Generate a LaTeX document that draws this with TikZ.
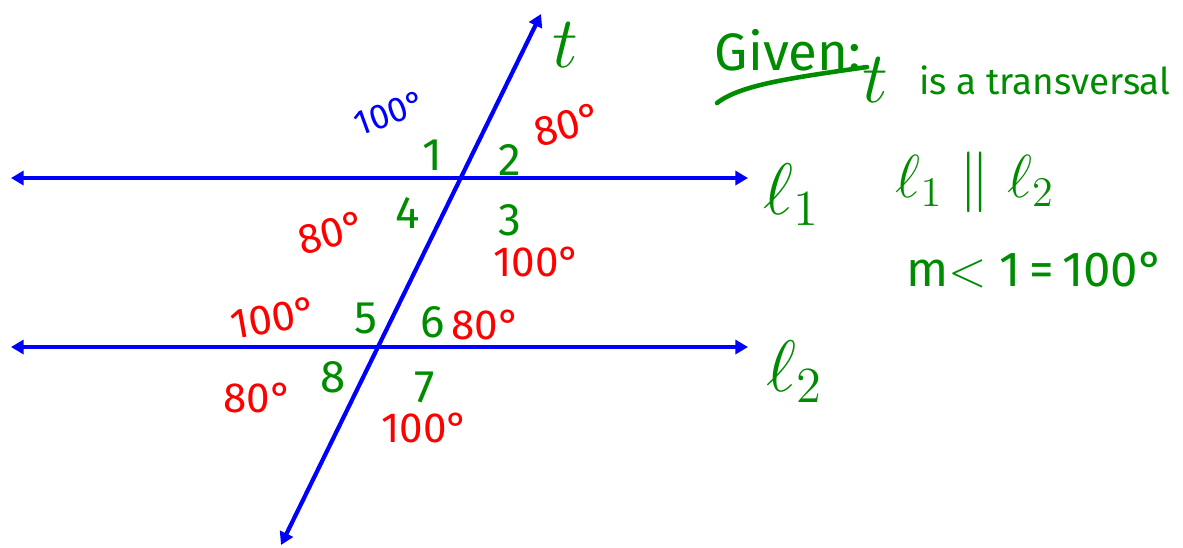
\documentclass[tikz,border=0pt]{standalone}
\usepackage{amsmath}
\usepackage{amssymb}
\usepackage{xcolor}
\usepackage{fontspec}
\setmainfont{Fira Sans}
\usepackage{tikz}
\usetikzlibrary{arrows.meta, positioning}
\definecolor{penblue}{RGB}{0, 0, 255}
\definecolor{pengreen}{RGB}{0, 140, 0}
\definecolor{penred}{RGB}{255, 0, 0}

\begin{document}
\begin{tikzpicture}[
    ln/.style    = {penblue, line width=1.2pt,
                    {Triangle[length=3.6pt,width=4pt]}-{Triangle[length=3.6pt,width=4pt]}},
    num/.style   = {text=pengreen, font=\fontsize{13}{13}\selectfont, inner sep=0pt},
    deg/.style   = {text=penred, font=\fontsize{12}{12}\selectfont, inner sep=0pt},
    given/.style = {text=pengreen, font=\fontsize{14}{14}\selectfont, inner sep=0pt},
    big/.style   = {text=pengreen, font=\fontsize{22}{22}\selectfont, inner sep=0pt},
  ]
  \useasboundingbox (0,0) rectangle (11.83,-5.47);

  %% Lines
  \coordinate (l1w) at (0.11,-1.78);
  \coordinate (l1e) at (7.48,-1.78);
  \coordinate (l2w) at (0.11,-3.47);
  \coordinate (l2e) at (7.48,-3.47);
  \coordinate (ttop) at (5.41,-0.14);
  \coordinate (tbot) at (2.81,-5.45);
  \draw[ln] (l1w) -- (l1e);
  \draw[ln] (l2w) -- (l2e);
  \draw[ln] (tbot) -- (ttop);

  %% Line names
  \node[big] (tname)  at (5.65,-0.45) {$t$};
  \node[big] (l1name) at (7.92,-1.95) {$\ell_1$};
  \node[big] (l2name) at (7.95,-3.72) {$\ell_2$};

  %% Angle numbers
  \node[num] (a1) at (4.32,-1.55) {1};
  \node[num] (a2) at (5.10,-1.60) {2};
  \node[num] (a3) at (5.10,-2.20) {3};
  \node[num] (a4) at (4.08,-2.13) {4};
  \node[num] (a5) at (3.66,-3.18) {5};
  \node[num] (a6) at (4.33,-3.22) {6};
  \node[num] (a7) at (4.25,-3.87) {7};
  \node[num] (a8) at (3.33,-3.77) {8};

  %% Angle measures
  \node[deg, text=penblue, font=\fontsize{10}{10}\selectfont, rotate=20] (m1) at (3.90,-1.13) {100\textdegree};
  \node[deg, rotate=15] (m2) at (5.68,-1.25) {80\textdegree};
  \node[deg] (m3) at (5.37,-2.62) {100\textdegree};
  \node[deg, rotate=15] (m4) at (3.32,-2.33) {80\textdegree};
  \node[deg, rotate=10] (m5) at (2.74,-3.18) {100\textdegree};
  \node[deg] (m6) at (4.86,-3.25) {80\textdegree};
  \node[deg] (m7) at (4.25,-4.28) {100\textdegree};
  \node[deg] (m8) at (2.58,-3.98) {80\textdegree};

  %% Given
  \node[given, font=\fontsize{15}{15}\selectfont] (givtxt) at (7.88,-0.50) {Given:};
  \coordinate (ulstart) at (7.17,-1.03);
  \coordinate (ulend)   at (8.67,-0.67);
  \draw[pengreen, line width=1.3pt, line cap=round]
    (ulstart) .. controls (7.40,-0.85) and (7.90,-0.78) .. (ulend);
  \node[big] (tgiven) at (8.75,-0.80) {$t$};
  \node[given, font=\fontsize{10.5}{10.5}\selectfont, right=0.30cm of tgiven] (transv) {is a transversal};
  \node[big, font=\fontsize{18}{18}\selectfont] (par) at (9.75,-1.82) {$\ell_1 \parallel \ell_2$};
  \node[given] (meas) at (10.35,-2.70) {m$<$\ 1\,=\,100\textdegree};

\end{tikzpicture}
\end{document}
